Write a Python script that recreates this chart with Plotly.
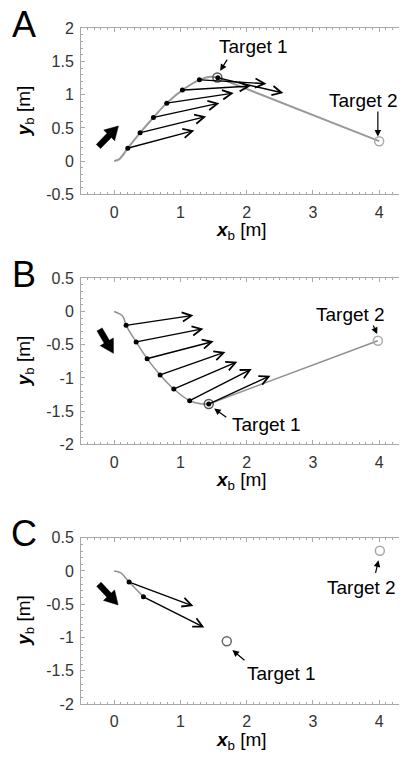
import plotly.graph_objects as go

# The page body adds an 8px margin, so the figure is laid out in
# reference pixels shifted by OFF.
OFF = 8
REF_W, REF_H = 407, 760
W, H = REF_W - OFF, REF_H - OFF

# ---------------- data ----------------
# Panel A
a_curve_x = [0.0, 0.08, 0.206, 0.392, 0.593, 0.794, 1.03, 1.287, 1.45, 1.558]
a_curve_y = [0.0, 0.03, 0.195, 0.426, 0.657, 0.873, 1.069, 1.224, 1.27, 1.26]
a_dot_x = [0.206, 0.392, 0.593, 0.794, 1.03, 1.287, 1.565]
a_dot_y = [0.195, 0.426, 0.657, 0.873, 1.069, 1.224, 1.255]
a_end_x = [1.211, 1.389, 1.588, 1.805, 2.06, 2.30, 2.555]
a_end_y = [0.461, 0.672, 0.873, 1.024, 1.13, 1.165, 1.024]
a_t1 = (1.558, 1.26)
a_t2 = (4.0, 0.30)
a_dir = (-0.237, 0.22, 0.065, 0.53)

# Panel B
b_curve_x = [0.0, 0.13, 0.181, 0.332, 0.498, 0.694, 0.90, 1.14, 1.30, 1.428]
b_curve_y = [0.0, -0.07, -0.208, -0.459, -0.71, -0.956, -1.167, -1.343, -1.39, -1.393]
b_dot_x = [0.181, 0.332, 0.498, 0.694, 0.90, 1.14, 1.428]
b_dot_y = [-0.208, -0.459, -0.71, -0.956, -1.167, -1.343, -1.393]
b_end_x = [1.197, 1.348, 1.503, 1.68, 1.86, 2.077, 2.36]
b_end_y = [-0.058, -0.259, -0.449, -0.61, -0.756, -0.866, -0.966]
b_t1 = (1.428, -1.393)
b_t2 = (3.98, -0.44)
b_dir = (-0.22, -0.27, -0.01, -0.63)

# Panel C
c_curve_x = [0.0, 0.1, 0.226, 0.442]
c_curve_y = [0.0, -0.03, -0.167, -0.388]
c_dot_x = [0.226, 0.442]
c_dot_y = [-0.167, -0.388]
c_end_x = [1.197, 1.362]
c_end_y = [-0.528, -0.85]
c_t1 = (1.70, -1.056)
c_t2 = (4.01, 0.305)
c_dir = (-0.23, -0.20, 0.06, -0.51)

# Target labels: (text, text x, text y, arrow tail x, tail y, tip x, tip y)
a_lab = [("Target 1", 2.10, 1.72, 1.72, 1.55, 1.60, 1.36),
         ("Target 2", 3.76, 0.92, 3.98, 0.77, 3.98, 0.37)]
b_lab = [("Target 2", 3.56, -0.04, 3.90, -0.19, 3.97, -0.34),
         ("Target 1", 2.30, -1.70, 1.715, -1.61, 1.51, -1.46)]
c_lab = [("Target 2", 3.74, -0.25, 3.94, -0.05, 3.99, 0.16),
         ("Target 1", 2.53, -1.54, 1.99, -1.36, 1.785, -1.19)]

x_tickvals = [0, 1, 2, 3, 4]
x_ticktext = ["0", "1", "2", "3", "4"]
ya_tickvals = [-0.5, 0, 0.5, 1, 1.5, 2]
ya_ticktext = ["-0.5", "0", "0.5", "1", "1.5", "2"]
yb_tickvals = [-2, -1.5, -1, -0.5, 0, 0.5]
yb_ticktext = ["-2", "-1.5", "-1", "-0.5", "0", "0.5"]

panel_letters = ["A", "B", "C"]

# ---------------- layout geometry (reference pixels) ----------------
plot_left = 81
rows = [(28.3, 194.3), (278.3, 444.3), (537.7, 704.0)]
yranges = [[-0.5, 2.0], [-2.0, 0.5], [-2.0, 0.5]]
xrange_ = [-0.5, 4.42]


def px(xp):
    return (xp - OFF) / W


def py(yp):
    return 1 - (yp - OFF) / H


fig = go.Figure()

FONT = "Liberation Sans, Arial, Helvetica, sans-serif"
AX_COL = "#a8a8a8"


def block_arrow(x0, y0, x1, y1, shaft_hw=0.045, head_hw=0.115, head_len=0.2):
    dx, dy = x1 - x0, y1 - y0
    L = (dx * dx + dy * dy) ** 0.5
    ux, uy = dx / L, dy / L
    qx, qy = -uy, ux
    bx, by = x1 - ux * head_len, y1 - uy * head_len
    pts = [
        (x0 + qx * shaft_hw, y0 + qy * shaft_hw),
        (bx + qx * shaft_hw, by + qy * shaft_hw),
        (bx + qx * head_hw, by + qy * head_hw),
        (x1, y1),
        (bx - qx * head_hw, by - qy * head_hw),
        (bx - qx * shaft_hw, by - qy * shaft_hw),
        (x0 - qx * shaft_hw, y0 - qy * shaft_hw),
        (x0 + qx * shaft_hw, y0 + qy * shaft_hw),
    ]
    return [p[0] for p in pts], [p[1] for p in pts]


panels = [
    dict(cx=a_curve_x, cy=a_curve_y, dx=a_dot_x, dy=a_dot_y, ex=a_end_x, ey=a_end_y,
         t1=a_t1, t2=a_t2, dir=a_dir, lab=a_lab, cw=2.0, ccol="#999999", line_t1=True,
         t1col="#555555"),
    dict(cx=b_curve_x, cy=b_curve_y, dx=b_dot_x, dy=b_dot_y, ex=b_end_x, ey=b_end_y,
         t1=b_t1, t2=b_t2, dir=b_dir, lab=b_lab, cw=1.5, ccol="#909090", line_t1=True,
         t1col="#555555"),
    dict(cx=c_curve_x, cy=c_curve_y, dx=c_dot_x, dy=c_dot_y, ex=c_end_x, ey=c_end_y,
         t1=c_t1, t2=c_t2, dir=c_dir, lab=c_lab, cw=1.5, ccol="#909090", line_t1=False,
         t1col="#666666"),
]

annotations = []
for i, p in enumerate(panels):
    xa = "x" if i == 0 else f"x{i+1}"
    ya = "y" if i == 0 else f"y{i+1}"
    fig.add_trace(go.Scatter(x=p["cx"], y=p["cy"], mode="lines", xaxis=xa, yaxis=ya,
                             line=dict(color=p["ccol"], width=p["cw"], shape="spline"),
                             hoverinfo="skip", showlegend=False))
    if p["line_t1"]:
        fig.add_trace(go.Scatter(x=[p["t1"][0], p["t2"][0]], y=[p["t1"][1], p["t2"][1]],
                                 mode="lines", xaxis=xa, yaxis=ya,
                                 line=dict(color=p["ccol"], width=p["cw"]),
                                 hoverinfo="skip", showlegend=False))
    bxs, bys = block_arrow(*p["dir"])
    fig.add_trace(go.Scatter(x=bxs, y=bys, mode="lines", fill="toself", xaxis=xa, yaxis=ya,
                             fillcolor="black", line=dict(color="black", width=0.5),
                             hoverinfo="skip", showlegend=False))
    fig.add_trace(go.Scatter(x=[p["t1"][0]], y=[p["t1"][1]], mode="markers", xaxis=xa, yaxis=ya,
                             marker=dict(symbol="circle-open", size=9, color=p["t1col"],
                                         line=dict(color=p["t1col"], width=1.5)),
                             hoverinfo="skip", showlegend=False))
    fig.add_trace(go.Scatter(x=[p["t2"][0]], y=[p["t2"][1]], mode="markers", xaxis=xa, yaxis=ya,
                             marker=dict(symbol="circle-open", size=9, color="#aaaaaa",
                                         line=dict(color="#aaaaaa", width=1.5)),
                             hoverinfo="skip", showlegend=False))
    for sx, sy, exx, eyy in zip(p["dx"], p["dy"], p["ex"], p["ey"]):
        annotations.append(dict(x=exx, y=eyy, ax=sx, ay=sy, xref=xa, yref=ya,
                                axref=xa, ayref=ya, showarrow=True, arrowhead=5,
                                arrowsize=1.3, arrowwidth=1.4, arrowcolor="black", text=""))
    fig.add_trace(go.Scatter(x=p["dx"], y=p["dy"], mode="markers", xaxis=xa, yaxis=ya,
                             marker=dict(color="black", size=5),
                             hoverinfo="skip", showlegend=False))
    for txt, tx, ty, ax0, ay0, ax1, ay1 in p["lab"]:
        annotations.append(dict(x=tx, y=ty, xref=xa, yref=ya, text=txt, showarrow=False,
                                xanchor="center", yanchor="middle",
                                font=dict(size=19, color="black", family=FONT)))
        annotations.append(dict(x=ax1, y=ay1, ax=ax0, ay=ay0, xref=xa, yref=ya,
                                axref=xa, ayref=ya, showarrow=True, arrowhead=2,
                                arrowsize=1.1, arrowwidth=1.2, arrowcolor="black", text=""))

    top, bot = rows[i]
    axis_common = dict(showline=True, linecolor=AX_COL, linewidth=1, ticks="inside",
                       ticklen=4, tickcolor=AX_COL, showgrid=False, zeroline=False,
                       automargin=False, ticklabelstandoff=3,
                       tickfont=dict(size=16, color="#333333", family=FONT),
                       minor=dict(ticks="inside", ticklen=2, tickcolor=AX_COL, showgrid=False))
    xkey = "xaxis" if i == 0 else f"xaxis{i+1}"
    ykey = "yaxis" if i == 0 else f"yaxis{i+1}"
    fig.update_layout(**{
        xkey: dict(axis_common, domain=[px(plot_left), 1.0], range=xrange_, anchor=ya,
                   tickvals=x_tickvals, ticktext=x_ticktext, mirror="allticks",
                   minor=dict(axis_common["minor"], dtick=0.1, tick0=0)),
        ykey: dict(axis_common, domain=[py(bot), py(top)], range=yranges[i], anchor=xa,
                   tickvals=ya_tickvals if i == 0 else yb_tickvals,
                   ticktext=ya_ticktext if i == 0 else yb_ticktext,
                   minor=dict(axis_common["minor"], dtick=0.1, tick0=0)),
    })
    annotations.append(dict(x=px(241), y=py(bot + 37), xref="paper", yref="paper",
                            xanchor="center", yanchor="middle",
                            text="<b><i>x</i></b><sub>b</sub> [m]", showarrow=False,
                            font=dict(size=19, color="black", family=FONT)))
    annotations.append(dict(x=px(25), y=py((top + bot) / 2), xref="paper", yref="paper",
                            xanchor="center", yanchor="middle",
                            text="<b><i>y</i></b><sub>b</sub> [m]", showarrow=False, textangle=-90,
                            font=dict(size=19, color="black", family=FONT)))
    annotations.append(dict(x=px(24), y=py(top - 4), xref="paper", yref="paper",
                            xanchor="center", yanchor="middle",
                            text=panel_letters[i], showarrow=False,
                            font=dict(size=36, color="black", family=FONT)))

fig.update_layout(width=W, height=H, margin=dict(l=0, r=0, t=0, b=0),
                  paper_bgcolor="white", plot_bgcolor="white",
                  annotations=annotations, showlegend=False)

fig.write_html("out.html")
